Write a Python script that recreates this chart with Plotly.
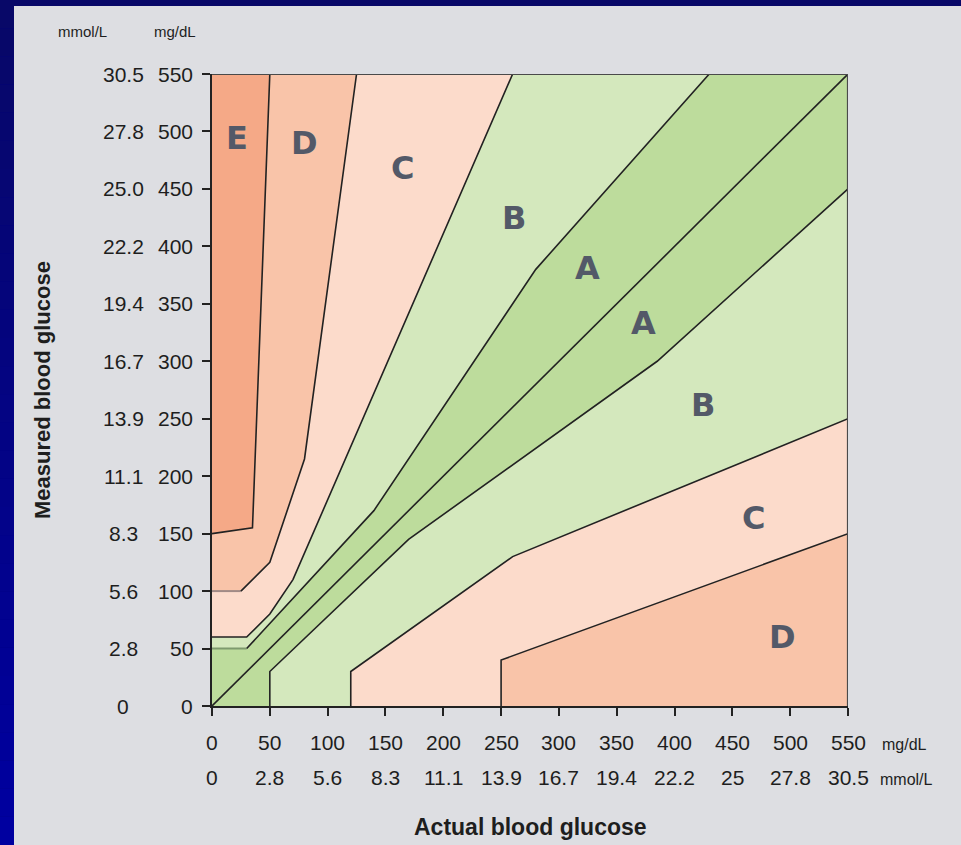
import plotly.graph_objects as go

# Parkes (consensus) error grid, type 1 diabetes — zone boundaries in mg/dL
a_upper = [(0, 50), (30, 50), (140, 170), (280, 380), (430, 550)]
a_lower = [(50, 0), (50, 30), (170, 145), (385, 300), (550, 450)]
b_upper = [(0, 60), (30, 60), (50, 80), (70, 110), (260, 550)]
b_lower = [(120, 0), (120, 30), (260, 130), (550, 250)]
c_upper = [(0, 100), (25, 100), (50, 125), (80, 215), (125, 550)]
c_lower = [(250, 0), (250, 40), (550, 150)]
d_upper = [(0, 150), (35, 155), (50, 550)]

# Axis ticks and their labels in both units
mg_ticks = [0, 50, 100, 150, 200, 250, 300, 350, 400, 450, 500, 550]
mmol_x_labels = ["0", "2.8", "5.6", "8.3", "11.1", "13.9", "16.7", "19.4", "22.2", "25", "27.8", "30.5"]
mmol_y_labels = ["0", "2.8", "5.6", "8.3", "11.1", "13.9", "16.7", "19.4", "22.2", "25.0", "27.8", "30.5"]

# Zone letters and where they sit (mg/dL)
zone_letters = ["E", "D", "C", "B", "A", "A", "B", "C", "D"]
zone_x = [22, 80, 165, 261, 325, 373, 425, 468, 493]
zone_y = [494, 490, 468, 425, 381, 333, 262, 164, 60]

LIM = 550
COL_A = "#BDDC9C"
COL_B = "#D4E8BD"
COL_C = "#FCDBCB"
COL_D = "#F9C4A9"
COL_E = "#F5A987"
LINE = "#222222"
TXT = "#1E1E1E"
LETTER = "#535968"
FONT = "Liberation Sans Narrow, Liberation Sans, Arial"


def band(inner, outer):
    pts = list(inner) + list(reversed(outer))
    return [p[0] for p in pts], [p[1] for p in pts]


# Zone A: between the two A boundaries, including the origin corner
a_pts = a_upper + [(LIM, LIM)] + list(reversed(a_lower)) + [(0, 0)]
region_list = [
    ([p[0] for p in a_pts], [p[1] for p in a_pts], COL_A),
    (*band(a_upper, b_upper), COL_B),
    (*band(a_lower, b_lower), COL_B),
    (*band(b_upper, c_upper), COL_C),
    (*band(b_lower, c_lower), COL_C),
    (*band(c_upper, d_upper), COL_D),
]
d_low = c_lower + [(LIM, 0)]
region_list.append(([p[0] for p in d_low], [p[1] for p in d_low], COL_D))
e_pts = d_upper + [(0, LIM)]
region_list.append(([p[0] for p in e_pts], [p[1] for p in e_pts], COL_E))

fig = go.Figure()

for xs, ys, col in region_list:
    fig.add_trace(go.Scatter(x=xs, y=ys, fill="toself", fillcolor=col,
                             mode="none", hoverinfo="skip", showlegend=False))

# Zone boundary lines; the flat low-range lead-ins are drawn softer
soft = {id(a_upper): "#7E9A6E", id(c_upper): "#A08A86"}
for curve in [a_upper, a_lower, b_upper, b_lower, c_upper, c_lower, d_upper,
              [(0, 0), (LIM, LIM)]]:
    if id(curve) in soft:
        lead, rest = curve[:2], curve[1:]
        fig.add_trace(go.Scatter(x=[p[0] for p in lead], y=[p[1] for p in lead],
                                 mode="lines", line=dict(color=soft[id(curve)], width=2),
                                 hoverinfo="skip", showlegend=False))
    else:
        rest = curve
    fig.add_trace(go.Scatter(x=[p[0] for p in rest], y=[p[1] for p in rest],
                             mode="lines", line=dict(color=LINE, width=1.6),
                             hoverinfo="skip", showlegend=False))

# Top and right frame edges
fig.add_trace(go.Scatter(x=[0, LIM, LIM], y=[LIM, LIM, 0], mode="lines",
                         line=dict(color="#4A4A4A", width=2.2),
                         hoverinfo="skip", showlegend=False, cliponaxis=False))

annotations = []
lab_font = dict(family=FONT, size=21, color=TXT)
unit_font = dict(family=FONT, size=16, color=TXT)
top_unit_font = dict(family=FONT, size=15, color=TXT)

for v, mm in zip(mg_ticks, mmol_y_labels):
    annotations.append(dict(x=0, y=v, xref="x", yref="y", text=str(v), showarrow=False,
                            xanchor="right", yanchor="middle", xshift=-17, font=lab_font))
    annotations.append(dict(x=0, y=v, xref="x", yref="y", text=mm, showarrow=False,
                            xanchor="center", yanchor="middle", xshift=-89, font=lab_font))
for v, mm in zip(mg_ticks, mmol_x_labels):
    annotations.append(dict(x=v, y=0, xref="x", yref="y", text=str(v), showarrow=False,
                            xanchor="center", yanchor="middle", yshift=-36, font=lab_font))
    annotations.append(dict(x=v, y=0, xref="x", yref="y", text=mm, showarrow=False,
                            xanchor="center", yanchor="middle", yshift=-71, font=lab_font))

# Unit captions
annotations += [
    dict(x=LIM, y=0, xref="x", yref="y", text="mg/dL", showarrow=False, xanchor="left",
         yanchor="middle", xshift=32, yshift=-38, font=unit_font),
    dict(x=LIM, y=0, xref="x", yref="y", text="mmol/L", showarrow=False, xanchor="left",
         yanchor="middle", xshift=30, yshift=-73, font=unit_font),
    dict(x=0, y=LIM, xref="x", yref="y", text="mmol/L", showarrow=False, xanchor="center",
         yanchor="middle", xshift=-130, yshift=43, font=top_unit_font),
    dict(x=0, y=LIM, xref="x", yref="y", text="mg/dL", showarrow=False, xanchor="center",
         yanchor="middle", xshift=-37, yshift=43, font=top_unit_font),
]

# Axis titles
annotations += [
    dict(x=LIM / 2, y=0, xref="x", yref="y", text="<b>Actual blood glucose</b>", showarrow=False,
         xanchor="center", yanchor="middle", yshift=-121, font=dict(family=FONT, size=23, color=TXT)),
    dict(x=0, y=LIM / 2, xref="x", yref="y", text="<b>Measured blood glucose</b>", showarrow=False,
         xanchor="center", yanchor="middle", xshift=-170, textangle=-90,
         font=dict(family=FONT, size=22, color=TXT)),
]

# Zone letters
for t, zx, zy in zip(zone_letters, zone_x, zone_y):
    annotations.append(dict(x=zx, y=zy, xref="x", yref="y", text="<b>" + t + "</b>",
                            showarrow=False, xanchor="center", yanchor="middle",
                            font=dict(family="DejaVu Sans", size=32, color=LETTER)))

# Background: navy frame with a grey panel
W, H = 961, 845
L, R, T, B = 212, 113, 74, 139
pw, ph = W - L - R, H - T - B


def px_x(px):
    return (px - L) / pw


def px_y(py):
    return (H - B - py) / ph


shapes = []
n = 30
for i in range(n):
    y0 = H * i / n
    y1 = H * (i + 1) / n
    f = i / (n - 1)
    r = int(8 * (1 - f))
    g = int(8 * (1 - f))
    b = int(104 + (160 - 104) * f)
    shapes.append(dict(type="rect", xref="paper", yref="paper",
                       x0=px_x(0), x1=px_x(W), y0=px_y(y1), y1=px_y(y0),
                       fillcolor=f"rgb({r},{g},{b})", line=dict(width=0), layer="below"))
shapes.append(dict(type="rect", xref="paper", yref="paper",
                   x0=px_x(14), x1=px_x(W + 2), y0=px_y(H + 2), y1=px_y(6),
                   fillcolor="#DDDEE2", line=dict(width=0), layer="below"))

axis_common = dict(range=[0, LIM], showgrid=False, zeroline=False, showticklabels=False,
                   ticks="outside", ticklen=8, tickwidth=1.6, tickcolor=LINE,
                   showline=True, linecolor=LINE, linewidth=2,
                   tickmode="array", tickvals=mg_ticks, fixedrange=True)

fig.update_layout(
    width=W, height=H,
    margin=dict(l=L, r=R, t=T, b=B, pad=0),
    paper_bgcolor="#000080",
    plot_bgcolor="#DDDEE2",
    xaxis=dict(**axis_common),
    yaxis=dict(**axis_common),
    shapes=shapes,
    annotations=annotations,
    showlegend=False,
)

fig.write_html("out.html")
